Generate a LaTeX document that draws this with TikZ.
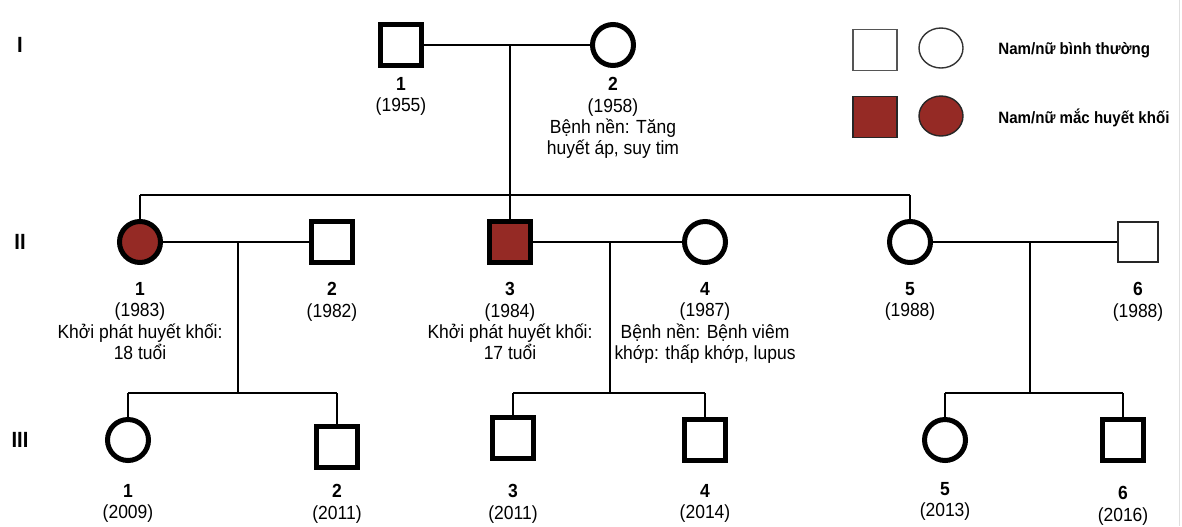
\documentclass[tikz,border=0pt]{standalone}
\usepackage{fontspec}
\setmainfont{Liberation Sans}[FakeStretch=0.92]
\usetikzlibrary{shapes.geometric}
\definecolor{clot}{HTML}{952A25}
\definecolor{legborder}{HTML}{555555}
\tikzset{
  male/.style={rectangle, draw, line width=2.5pt, minimum size=20.5pt, inner sep=0pt},
  female/.style={circle, draw, line width=2.5pt, minimum size=20.5pt, inner sep=0pt},
  aff/.style={fill=clot},
  thinmale/.style={rectangle, draw=black!85, line width=0.6pt, minimum size=20pt, inner sep=0pt},
  lab/.style={align=center, anchor=north, inner sep=0pt, font=\fontsize{9.5}{10.7}\selectfont},
  gen/.style={inner sep=0pt, font=\bfseries\fontsize{11}{12}\selectfont},
  link/.style={line width=0.9pt},
  legsq/.style={rectangle, draw=legborder, line width=0.8pt, minimum width=22pt, minimum height=20.5pt, inner sep=0pt},
  legci/.style={ellipse, draw=black!80, line width=0.7pt, minimum width=22pt, minimum height=20pt, inner sep=0pt},
  legtext/.style={anchor=west, inner sep=0pt, font=\bfseries\fontsize{8.2}{10}\selectfont}
}
\begin{document}
\begin{tikzpicture}[x=0.5pt,y=-0.5pt]
\useasboundingbox (0,0) rectangle (1182,526);
\draw[gray!25, line width=0.5pt] (1179.5,0) -- (1179.5,526);

% generation labels
\node[gen] (gI) at (20,45) {I};
\node[gen] (gII) at (20,242) {II};
\node[gen] (gIII) at (20,440) {III};

% legend
\node[legsq] (lm) at (875,50) {};
\node[legci] (lf) at (941,48) {};
\node[legtext] (lt1) at (998,50) {Nam/nữ bình thường};
\node[legsq, fill=clot, draw=black!85] (lma) at (875,117) {};
\node[legci, fill=clot, draw=black!85] (lfa) at (941,116) {};
\node[legtext] (lt2) at (998,118) {Nam/nữ mắc huyết khối};

% generation I
\node[male] (I1) at (401,45) {};
\node[female] (I2) at (613,45) {};
\node[lab] (lI1) at (401,77) {\textbf{1}\\(1955)};
\node[lab] (lI2) at (613,77) {\textbf{2}\\(1958)\\Bệnh nền: Tăng\\huyết áp, suy tim};

% generation II
\node[female, aff] (II1) at (140,242) {};
\node[male] (II2) at (332,242) {};
\node[male, aff] (II3) at (510,242) {};
\node[female] (II4) at (705,242) {};
\node[female] (II5) at (910,242) {};
\node[thinmale] (II6) at (1138,242) {};
\node[lab] (lII1) at (140,282) {\textbf{1}\\(1983)\\Khởi phát huyết khối:\\18 tuổi};
\node[lab] (lII2) at (332,282) {\textbf{2}\\(1982)};
\node[lab] (lII3) at (510,282) {\textbf{3}\\(1984)\\Khởi phát huyết khối:\\17 tuổi};
\node[lab] (lII4) at (705,282) {\textbf{4}\\(1987)\\Bệnh nền: Bệnh viêm\\khớp: thấp khớp, lupus};
\node[lab] (lII5) at (910,282) {\textbf{5}\\(1988)};
\node[lab] (lII6) at (1138,282) {\textbf{6}\\(1988)};

% generation III
\node[female] (III1) at (128,440) {};
\node[male] (III2) at (337,447) {};
\node[male] (III3) at (513,438) {};
\node[male] (III4) at (705,440) {};
\node[female] (III5) at (945,440) {};
\node[male] (III6) at (1123,440) {};
\node[lab] (lIII1) at (128,484) {\textbf{1}\\(2009)};
\node[lab] (lIII2) at (337,484) {\textbf{2}\\(2011)};
\node[lab] (lIII3) at (513,484) {\textbf{3}\\(2011)};
\node[lab] (lIII4) at (705,484) {\textbf{4}\\(2014)};
\node[lab] (lIII5) at (945,482) {\textbf{5}\\(2013)};
\node[lab] (lIII6) at (1123,486) {\textbf{6}\\(2016)};

% connectors generation I -> II
\coordinate (mI) at (510,45);
\coordinate (sI) at (510,195);
\coordinate (sIL) at (140,195);
\coordinate (sIR) at (910,195);
\draw[link] (I1.east) -- (I2.west);
\draw[link] (mI) -- (sI);
\draw[link] (sIL) -- (sIR);
\draw[link] (sIL) -- (II1.north);
\draw[link] (sI) -- (II3.north);
\draw[link] (sIR) -- (II5.north);

% couple II1-II2
\coordinate (mA) at (238,242);
\coordinate (sA) at (238,393);
\coordinate (sAL) at (128,393);
\coordinate (sAR) at (337,393);
\draw[link] (II1.east) -- (II2.west);
\draw[link] (mA) -- (sA);
\draw[link] (sAL) -- (sAR);
\draw[link] (sAL) -- (III1.north);
\draw[link] (sAR) -- (III2.north);

% couple II3-II4
\coordinate (mB) at (610,242);
\coordinate (sB) at (610,393);
\coordinate (sBL) at (513,393);
\coordinate (sBR) at (705,393);
\draw[link] (II3.east) -- (II4.west);
\draw[link] (mB) -- (sB);
\draw[link] (sBL) -- (sBR);
\draw[link] (sBL) -- (III3.north);
\draw[link] (sBR) -- (III4.north);

% couple II5-II6
\coordinate (mC) at (1030,242);
\coordinate (sC) at (1030,393);
\coordinate (sCL) at (945,393);
\coordinate (sCR) at (1123,393);
\draw[link] (II5.east) -- (II6.west);
\draw[link] (mC) -- (sC);
\draw[link] (sCL) -- (sCR);
\draw[link] (sCL) -- (III5.north);
\draw[link] (sCR) -- (III6.north);
\end{tikzpicture}
\end{document}
